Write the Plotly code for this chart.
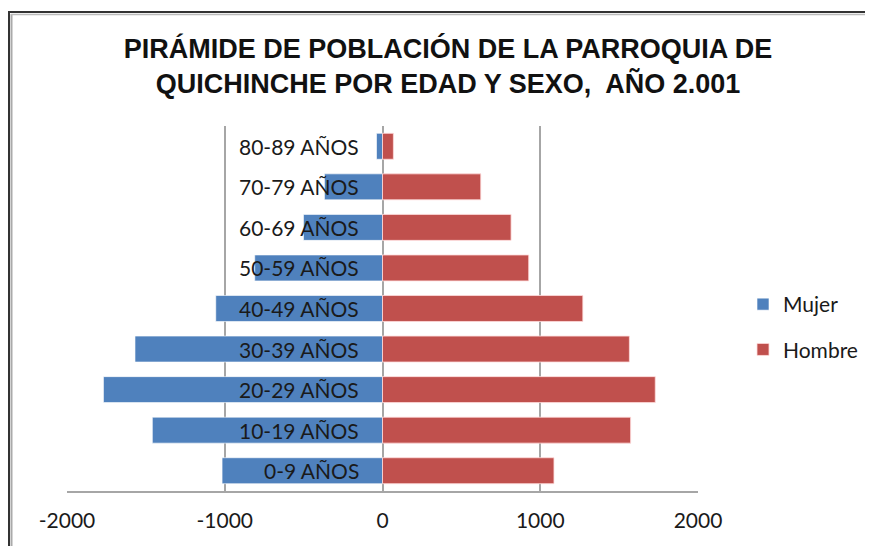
import plotly.graph_objects as go

# --- DONNÉES ---
grupos = ["0-9 AÑOS", "10-19 AÑOS", "20-29 AÑOS", "30-39 AÑOS", "40-49 AÑOS",
          "50-59 AÑOS", "60-69 AÑOS", "70-79 AÑOS", "80-89 AÑOS"]
mujer = [-1017, -1459, -1769, -1569, -1057, -810, -501, -368, -38]
hombre = [1087, 1573, 1729, 1565, 1270, 927, 815, 623, 69]
ticks_x = [-2000, -1000, 0, 1000, 2000]

# la page a une marge de 8 px : on travaille en coordonnées de la figure
W, H = 865, 538
ML, MR, MT, MB = 59, 175, 118, 55
pw, ph = W - ML - MR, H - MT - MB

def px(x):  # pixel figure -> paper x
    return (x - ML) / pw

def py(y):  # pixel figure -> paper y
    return (H - MB - y) / ph

FONT = "Lato, 'Open Sans', sans-serif"

fig = go.Figure()
fig.add_trace(go.Bar(
    y=grupos, x=mujer, orientation="h", name="Mujer", legendgroup="m",
    marker=dict(color="#4F81BD", line=dict(color="rgba(255,255,255,0.6)", width=1)),
    width=0.64,
))
fig.add_trace(go.Bar(
    y=grupos, x=hombre, orientation="h", name="Hombre", legendgroup="h",
    marker=dict(color="#C0504D", line=dict(color="rgba(255,220,220,0.8)", width=1)),
    width=0.64,
))

# étiquettes des catégories à gauche de l'axe 0
for g in grupos:
    fig.add_annotation(x=0, y=g, xref="x", yref="y", text=g, showarrow=False,
                       xanchor="right", yanchor="middle", xshift=-22,
                       font=dict(family=FONT, size=21, color="#1a1a1a"))

# cadre du graphique (gauche + haut)
fig.add_shape(type="line", xref="paper", yref="paper",
              x0=px(1), x1=px(1), y0=py(4), y1=py(H + 5),
              line=dict(color="#333333", width=2))
fig.add_shape(type="line", xref="paper", yref="paper",
              x0=px(3.5), x1=px(3.5), y0=py(6), y1=py(H + 5),
              line=dict(color="#aaaaaa", width=2))
fig.add_shape(type="line", xref="paper", yref="paper",
              x0=px(0), x1=px(W + 5), y0=py(4), y1=py(4),
              line=dict(color="#333333", width=2))
fig.add_shape(type="line", xref="paper", yref="paper",
              x0=px(3), x1=px(W + 5), y0=py(6.5), y1=py(6.5),
              line=dict(color="#bbbbbb", width=1.5))

fig.update_layout(
    width=W, height=H,
    margin=dict(l=ML, r=MR, t=MT, b=MB, autoexpand=False),
    paper_bgcolor="white", plot_bgcolor="white",
    barmode="relative", bargap=0.36,
    title=dict(
        text="<b>PIRÁMIDE DE POBLACIÓN DE LA PARROQUIA DE<br>QUICHINCHE POR EDAD Y SEXO,  AÑO 2.001</b>",
        x=440 / W, xanchor="center", y=1 - 50 / H, yanchor="top",
        font=dict(family="'Liberation Sans', Arial, sans-serif", size=27, color="#111111"),
    ),
    legend=dict(
        x=px(735), xanchor="left", y=py(319), yanchor="middle",
        font=dict(family=FONT, size=21, color="#1a1a1a"),
        tracegroupgap=15, traceorder="grouped",
        bgcolor="rgba(0,0,0,0)",
    ),
    showlegend=True,
)

fig.update_xaxes(
    range=[-2000, 2000], tickvals=ticks_x, ticktext=[str(t) for t in ticks_x],
    showgrid=True, gridcolor="#a6a6a6", gridwidth=1.5,
    zeroline=True, zerolinecolor="#a6a6a6", zerolinewidth=1.5,
    showline=True, linecolor="#a6a6a6", linewidth=1.5,
    ticks="outside", ticklen=10, tickcolor="rgba(0,0,0,0)",
    tickfont=dict(family=FONT, size=21, color="#1a1a1a"),
    fixedrange=True, automargin=False,
)
fig.update_yaxes(
    showticklabels=False, showgrid=False, zeroline=False, showline=False,
    categoryorder="array", categoryarray=grupos, fixedrange=True, automargin=False,
)

fig.write_html("out.html")
